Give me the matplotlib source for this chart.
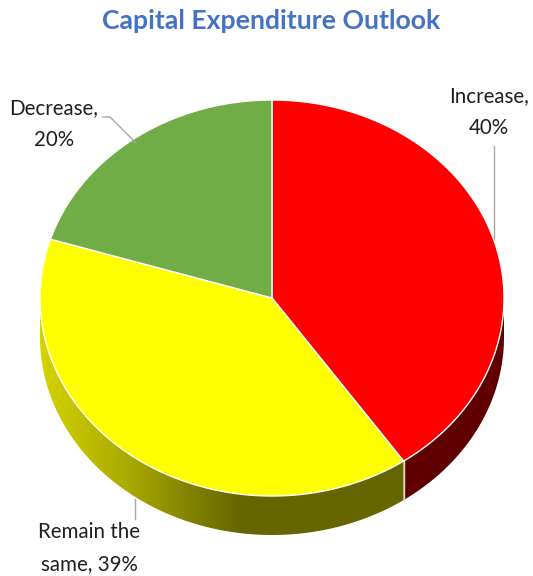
import numpy as np
import matplotlib
matplotlib.use('Agg')
import matplotlib.pyplot as plt
from matplotlib.colors import LinearSegmentedColormap
from matplotlib.patches import Polygon

# donnees du graphique
categories = ['Increase', 'Remain the same', 'Decrease']
valeurs = [40, 39, 20]
couleurs = ['#ff0000', '#ffff00', '#70ad47']
labels = ['Increase,\n40%', 'Remain the\nsame, 39%', 'Decrease,\n20%']

# geometrie en pixels de l'image
cx, cy = 272, 298
rx, ry = 232, 198
depth = 39


def bord(a1, a2, cmap):
    # la tranche 3D du camembert, un degrade horizontal coupe par la forme
    t = np.linspace(a1, a2, 300)
    x = cx + rx * np.sin(t)
    y = cy - ry * np.cos(t)
    forme = Polygon(np.column_stack([np.concatenate([x, x[::-1]]),
                                     np.concatenate([y, y[::-1] + depth])]),
                    closed=True, facecolor='none', edgecolor='none',
                    transform=ax.transData)
    ax.add_patch(forme)
    degrade = np.linspace(0, 1, 256).reshape(1, -1)
    img = ax.imshow(degrade, cmap=cmap, vmin=0, vmax=1, aspect='auto', zorder=2,
                    extent=[x.min(), x.max(), y.max() + depth, y.min()])
    img.set_clip_path(forme)


fig = plt.figure(figsize=(5.33, 5.76), dpi=100)
ax = fig.add_axes([0, 0, 1, 1])

total = sum(valeurs)
parts = np.cumsum([0] + valeurs) / total * 2 * np.pi

# tranche rouge et tranche jaune
rouge = LinearSegmentedColormap.from_list('r', ['#600000', '#600000'])
jaune = LinearSegmentedColormap.from_list('j', [(0, '#d4d400'), (0.25, '#a8a800'), (0.4, '#858500'),
                                                (0.55, '#666600'), (1, '#666600')])
bord(np.pi / 2, parts[1], rouge)
bord(parts[1], 3 * np.pi / 2, jaune)
ax.plot([cx + rx * np.sin(parts[1])] * 2,
        [cy - ry * np.cos(parts[1]), cy - ry * np.cos(parts[1]) + depth],
        color='#d9d9d9', lw=1, zorder=3)

# dessus du camembert
for i in range(len(valeurs)):
    t = np.linspace(parts[i], parts[i + 1], 200)
    xs = np.concatenate([[cx], cx + rx * np.sin(t)])
    ys = np.concatenate([[cy], cy - ry * np.cos(t)])
    ax.fill(xs, ys, facecolor=couleurs[i], edgecolor='white', lw=1, zorder=4)

# lignes de rappel
ax.plot([103, 110, 135], [117, 117, 142], color='#a6a6a6', lw=1, zorder=5)
ax.plot([494, 494], [146, 240], color='#a6a6a6', lw=1, zorder=3)
ax.plot([135, 135], [499, 519], color='#a6a6a6', lw=1, zorder=5)

ax.text(271, 21, 'Capital Expenditure Outlook', color='#4472c4', fontsize=19.2,
        fontweight='bold', ha='center', va='center', family='Lato')
ax.text(489, 112, labels[0], fontsize=14.8, ha='center', va='center',
        color='#1f1f1f', family='Lato', linespacing=1.8)
ax.text(89, 548, labels[1], fontsize=14.8, ha='center', va='center',
        color='#1f1f1f', family='Lato', linespacing=1.8)
ax.text(54, 124, labels[2], fontsize=14.8, ha='center', va='center',
        color='#1f1f1f', family='Lato', linespacing=1.8)

ax.set_xlim(0, 533)
ax.set_ylim(576, 0)
ax.axis('off')

fig.savefig('out.png', dpi=100)
